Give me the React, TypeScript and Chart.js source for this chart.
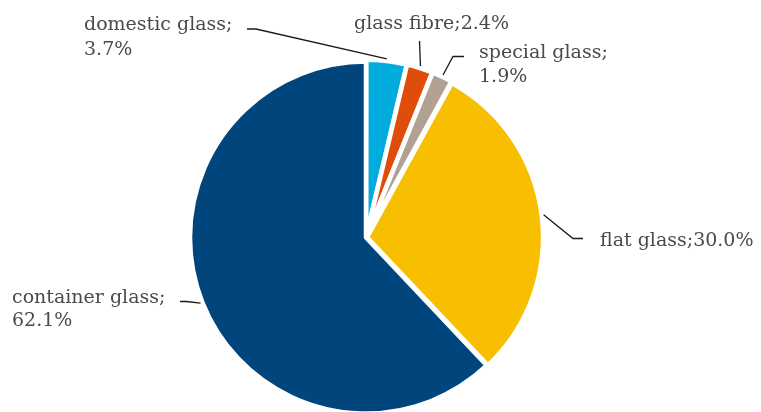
import React, { useEffect, useRef } from "react";
import { Chart, registerables } from "chart.js";

Chart.register(...registerables);

// Share of glass production by sector (%)
const categories = ["domestic glass", "glass fibre", "special glass", "flat glass", "container glass"];
const shares = [3.7, 2.4, 1.9, 30.0, 62.1];
const sliceColors = ["#00ACDE", "#DF4D0B", "#B0A193", "#F8BE00", "#00457C"];

const FONT = '19px "DejaVu Serif", serif';
const TEXT_COLOR = "#4a4a4a";

// Label layout: text lines with their baseline anchors, and the elbow points of each leader line
type LabelLayout = {
  lines: { text: (name: string, v: string) => string; x: number; y: number }[];
  path: [number, number][];
};

const layouts: LabelLayout[] = [
  {
    lines: [
      { text: (n) => `${n};`, x: 84, y: 30 },
      { text: (_n, v) => `${v}%`, x: 84, y: 55 },
    ],
    path: [[247, 29], [256, 29]],
  },
  {
    lines: [{ text: (n, v) => `${n};${v}%`, x: 354, y: 29 }],
    path: [[419.5, 41]],
  },
  {
    lines: [
      { text: (n) => `${n};`, x: 479, y: 58 },
      { text: (_n, v) => `${v}%`, x: 479, y: 82 },
    ],
    path: [[464, 56.5], [453, 56.5]],
  },
  {
    lines: [{ text: (n, v) => `${n};${v}%`, x: 600, y: 246 }],
    path: [[583, 238.5], [573, 238.5]],
  },
  {
    lines: [
      { text: (n) => `${n};`, x: 12, y: 303 },
      { text: (_n, v) => `${v}%`, x: 12, y: 326 },
    ],
    path: [[180, 301.5], [186, 301.5]],
  },
];

// Same displacement that ArcElement applies when drawing an offset slice
function drawnOffset(arc: any): number {
  const base = (arc.options.offset || 0) / 4;
  const circ = arc.endAngle - arc.startAngle;
  const fix = 1 - Math.sin(Math.min(Math.PI, circ || 0));
  return base + base * fix;
}

const leaderLabels = {
  id: "leaderLabels",
  afterDatasetsDraw(chart: any) {
    const { ctx } = chart;
    const meta = chart.getDatasetMeta(0);
    ctx.save();
    meta.data.forEach((arc: any, i: number) => {
      const layout = layouts[i];
      if (!layout) return;
      const { x, y, startAngle, endAngle, outerRadius } = arc.getProps(
        ["x", "y", "startAngle", "endAngle", "outerRadius"],
        true
      );
      const mid = (startAngle + endAngle) / 2;
      const r = outerRadius + drawnOffset(arc) + 2;
      const ex = x + Math.cos(mid) * r;
      const ey = y + Math.sin(mid) * r;

      ctx.strokeStyle = "#1a1a1a";
      ctx.lineWidth = 1.3;
      ctx.beginPath();
      layout.path.forEach(([px, py], k) => (k === 0 ? ctx.moveTo(px, py) : ctx.lineTo(px, py)));
      ctx.lineTo(ex, ey);
      ctx.stroke();

      ctx.fillStyle = TEXT_COLOR;
      ctx.font = FONT;
      ctx.textAlign = "left";
      ctx.textBaseline = "alphabetic";
      const value = shares[i].toFixed(1);
      layout.lines.forEach((ln) => ctx.fillText(ln.text(categories[i], value), ln.x, ln.y));
    });
    ctx.restore();
  },
};

export default function App() {
  const canvasRef = useRef<HTMLCanvasElement | null>(null);

  useEffect(() => {
    const canvas = canvasRef.current;
    if (!canvas) return;
    const chart = new Chart(canvas, {
      type: "pie",
      data: {
        labels: categories,
        datasets: [
          {
            data: shares,
            backgroundColor: sliceColors,
            borderColor: "#ffffff",
            borderWidth: 4.5,
            offset: [4, 4, 4, 4, 0],
            radius: 176,
          } as any,
        ],
      },
      options: {
        responsive: false,
        animation: false,
        layout: { padding: { left: 0, right: 29, top: 63, bottom: 0 } },
        plugins: {
          legend: { display: false },
          tooltip: { enabled: false },
        },
      },
      plugins: [leaderLabels],
    });
    return () => chart.destroy();
  }, []);

  return (
    <div style={{ position: "absolute", left: 0, top: 0, width: 761, height: 412, overflow: "hidden", background: "#ffffff" }}>
      <canvas ref={canvasRef} width={761} height={412} style={{ display: "block" }} />
    </div>
  );
}
